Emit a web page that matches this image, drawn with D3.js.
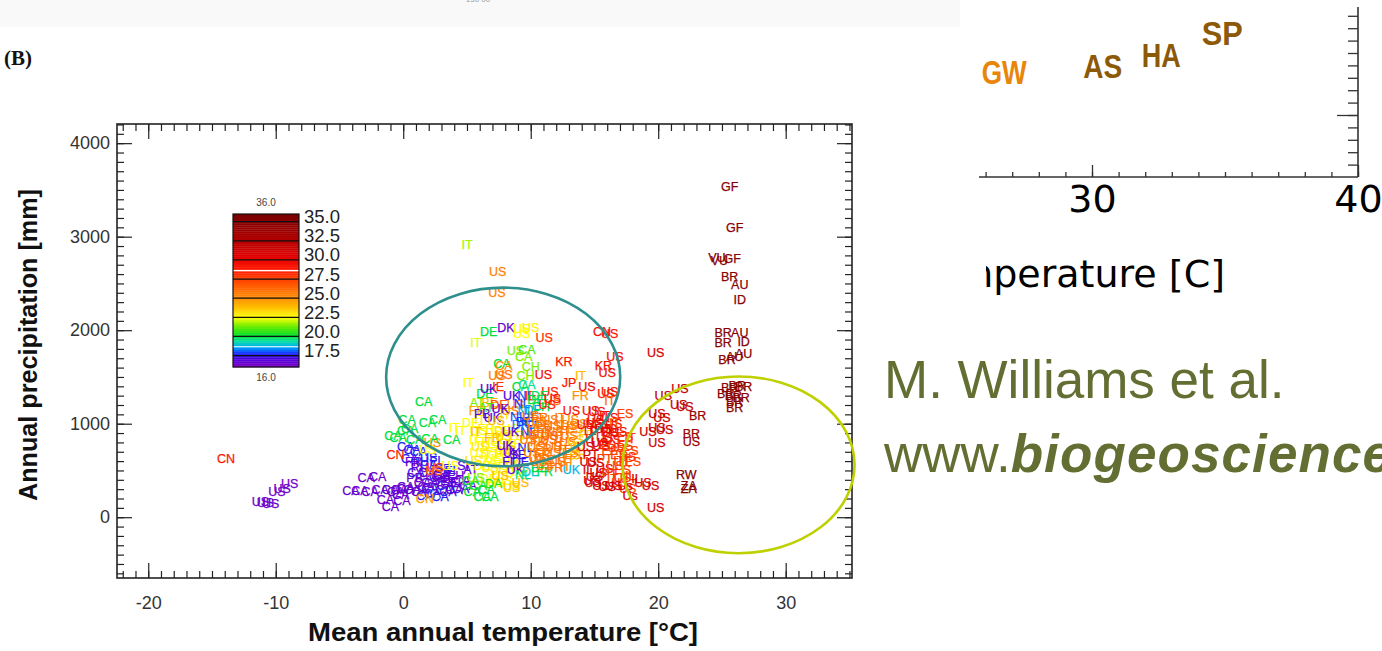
<!DOCTYPE html>
<html>
<head>
<meta charset="utf-8">
<script src="https://cdn.jsdelivr.net/npm/d3@7/dist/d3.min.js"></script>
<style>
body{margin:0;background:#fff}
svg{display:block}
</style>
</head>
<body>
<svg id="chart" width="1382" height="651"></svg>
<script>
// tick values
var xMajor = [-20, -10, 0, 10, 20, 30];
var yMajor = [0, 1000, 2000, 3000, 4000];
var barTicks = [17.5, 20, 22.5, 25, 27.5, 30, 32.5, 35];

// colour table of the bar (value -> colour)
var heatStops   = [16, 17.2, 17.8, 18.6, 19.4, 20.2, 21.5, 22.5, 23.8, 25.2, 27, 28.8, 30.5, 32.5, 34.5, 36];
var heatColours = ["#8000c0","#4a00e0","#1830ff","#00a8ff","#00e0a0","#00e020","#80f000","#ffff00","#ffc000","#ff8800","#ff5000","#ff1800","#e00000","#b40000","#900000","#780000"];

// sites: [code, mean annual temperature, annual precipitation, colour value]
var canadaCold = [
  ["CA",-4.1,280,16.5],["CA",-3.4,280,16.5],["CA",-2.6,270,16.5],["CA",-1.8,290,16.5],["CA",-1.0,290,16.5],
  ["CA",-0.3,300,16.5],["CA",-1.4,190,16.5],["CA",-1.0,110,16.5],["CA",-2.9,420,16.5],["CA",-2.0,430,16.5],
  ["CA",-0.1,180,16.5],["CA",0.2,310,16.8]
];
var coldUS = [
  ["US",-8.9,360,16.4],["US",-9.5,310,16.4],["US",-9.9,270,16.4],
  ["US",-11.2,170,16.4],["US",-10.8,160,16.4],["US",-10.4,150,16.4],
  ["CN",-13.9,630,29]
];
var coldSites = [
  ["CA",0.2,750,17.6],["CA",0.7,720,17.6],["CA",1.2,700,17.6],["CA",0.5,630,17.6],["RU",1.3,590,17.6],
  ["CA",2.0,560,17.6],["FI",2.5,610,17.6],["SE",3.1,520,17.6],["FI",3.7,500,17.6],["CA",2.7,420,17.6],
  ["CA",3.3,340,17.6],["FI",4.1,375,17.6],["CA",4.5,310,17.6],["CA",2.1,310,17.6],["CA",1.7,235,17.6],
  ["CA",2.3,255,17.6],["CA",2.9,225,17.6],["CA",3.5,270,17.6],
  ["CA",1.0,480,17.6],["CA",3.0,455,17],["US",2.0,640,17.6],
  ["FR",0.8,590,16.6],["RU",1.3,525,16.6],["CA",1.9,480,16.6],["US",2.4,450,16.6],["PB",0.9,420,16.6],
  ["CA",1.5,375,16.6],["CA",2.1,375,16.6],["SE",2.9,395,16.6],["CA",0.7,290,16.6],["CA",1.3,270,16.6],
  ["SE",3.5,420,16.6],["EH",4.1,450,16.6],["CA",4.6,395,16.6],["CA",5.1,340,16.6],["CA",0.2,330,16.6],
  ["CA",-0.2,245,16.6],["CA",-0.6,270,16.6],["CA",4.0,300,16.6],["CA",1.8,330,16.6],["CA",3.2,300,16.6],
  ["CN",1.7,200,24.5],["CN",-0.6,665,28.5],["US",1.9,720,22.5],["US",2.3,800,25],["US",2.5,525,28],
  ["US",2.4,500,26],["US",3.7,555,22.5],["SI",4.7,555,17],["AT",5.3,505,16.8],["SE",3.7,375,16.8]
];
var canadaGreen = [
  ["CA",1.6,1240,20],["CA",0.3,1040,20],["CA",1.9,1015,20],["CA",2.7,1040,20],["CA",0.5,950,20],
  ["CA",-0.4,855,20],["CA",0.9,835,20],["CA",2.1,845,20],["CA",3.8,825,20],["CA",-0.8,875,20],["CA",0.2,930,20]
];
var yellowSites = [
  ["DE",5.3,1015,22.5],["US",5.9,930,22.5],["FR",6.5,950,22.8],["US",7.1,910,22.5],["DE",7.8,930,23],["US",8.4,950,22.5],
  ["IT",5.6,825,22.5],["FR",6.2,805,22.5],["US",6.8,770,22.8],["DE",7.5,825,22.5],["US",8.1,770,23],["FR",8.7,790,22.5],
  ["US",5.9,695,22.5],["IT",6.5,665,22.8],["US",7.1,630,22.5],["FR",7.8,675,23],["US",8.4,630,22.5],
  ["DE",6.2,555,22.5],["US",6.8,525,22.8],["US",7.5,505,22.5],["FR",8.1,545,23],["US",8.7,480,22.5],["US",9.2,525,23],
  ["DE",6.7,415,22.5],["US",7.3,375,22.8],["US",7.9,395,22.5],["US",8.5,340,23],
  ["IT",5.7,910,24],["FR",7.0,855,24],["US",8.2,715,24],["US",7.6,440,24],["US",9.2,375,24],["US",8.5,320,23.5],
  ["IT",4.0,960,22.5],["IT",4.5,930,22.5],
  ["US",6.0,760,23],["FR",7.3,700,22.5],["US",8.6,560,23],["DE",7.0,600,22.5],["US",5.5,610,23],
  ["IT",6.0,1040,22.8],["US",7.9,860,23.5],["FR",8.9,870,23]
];
var mixedSites = [
  ["DE",6.4,1325,20],["UK",8.5,1295,17],["NL",9.6,1295,18],["IE",10.0,1305,28],["US",11.5,1340,28.5],
  ["FR",13.9,1295,25],["US",11.7,1250,26],
  ["AT",5.8,1230,21.5],["BE",6.8,1230,24],["FR",5.8,1145,24.5],["PB",6.2,1110,16.8],["DE",7.5,1200,27],
  ["US",8.4,1145,25.5],["IT",8.0,1100,23],["US",8.8,1200,25],
  ["NL",9.3,1210,17.8],["NL",9.6,1145,18.8],["BE",10.0,1060,18],["DE",10.4,985,18.5],["NL",9.8,910,17.8],
  ["DK",9.2,985,18.3],["DE",10.4,1255,20],["DE",10.7,1300,19.8],["UK",7.0,1060,16.8],["US",7.3,1030,24],
  ["UK",7.6,1160,16.8],["NL",9.0,1080,18],["DE",10.2,1150,18.5],["BE",9.5,1020,17.8],["CH",10.8,1180,20],["AT",6.5,1175,21],
  ["UK",8.0,770,16.8],["UK",8.5,695,16.8],["FI",8.2,590,17],["SE",9.0,665,17.2],["UK",8.8,505,16.8],
  ["DE",9.2,590,17.5],["NL",9.6,740,17.8],["UK",8.4,910,16.8],
  ["CA",5.3,395,20],["CA",5.9,340,20.5],["CA",6.5,290,20],["DA",7.1,355,20.5],["CA",5.4,270,20],
  ["CA",6.2,215,20],["CA",6.8,215,20],["US",5.7,420,21.5],
  ["DE",10.0,490,19],["FR",11.1,490,20],["UK",13.2,505,18.8],["DE",10.7,525,20],["NL",9.4,460,19.5]
];
var orangeSites = [
  ["US",10.0,1090,25.5],["FR",10.7,1060,26],["US",11.5,1040,25.5],["IT",12.3,1060,26],["US",13.1,1040,25],
  ["US",10.4,950,25.5],["FR",11.1,930,26],["US",11.9,910,25.5],["IT",12.7,930,26.5],["ES",13.5,950,25],
  ["US",9.8,825,26],["FR",10.6,805,25.5],["US",11.4,825,26],["IT",12.2,770,25.5],["US",12.9,805,26],
  ["US",10.1,695,25.5],["FR",10.9,665,26],["US",11.7,695,25.5],["IT",12.5,630,26],["ES",13.3,665,25.5],
  ["US",11.1,555,25.5],["FR",11.9,525,26],["US",10.6,590,26],["IT",12.7,545,25.5],
  ["US",13.5,825,23.5],["IT",14.0,770,23.5],["ES",13.7,665,23.5],["FR",14.4,880,23.5],["US",13.3,740,23.5],
  ["US",10.3,1010,26],["FR",11.0,990,25.5],["US",11.7,975,26],["IT",12.4,990,25.5],["US",13.0,975,26],["ES",13.8,1000,25],
  ["US",10.0,880,26],["FR",10.8,865,25.5],["US",11.5,870,26.5],["IT",12.3,860,26],["US",13.0,870,25.5],
  ["US",10.4,750,26],["FR",11.0,735,25.5],["US",11.8,760,26],["IT",12.6,720,26.5],["ES",13.1,690,25.5],
  ["US",10.5,640,26],["FR",11.3,615,25.5],["US",12.1,595,26],["IT",13.0,600,25]
];
var redSites = [
  ["US",14.7,1145,29.5],["US",15.2,1125,29.5],["IT",15.8,1090,29.5],["US",16.2,1060,29.5],["US",15.1,1040,29.5],
  ["ES",15.6,985,29.5],["US",16.1,950,29.5],["US",16.5,1005,29.5],["PT",15.3,910,29.5],["US",15.8,855,29.5],
  ["US",16.4,825,29.5],["IT",14.7,845,29.5],["US",14.3,985,29.5],["US",16.9,910,29.5],
  ["US",15.0,1010,30],["US",15.7,950,30.5],["US",16.3,900,30],["IT",14.6,930,30],["US",15.4,800,30.5],
  ["US",14.3,750,31],["PT",14.7,665,31],["US",15.1,580,31],["IL",14.5,505,31],["US",15.3,480,31],
  ["US",14.8,395,31],["US",15.5,770,31],["US",14.5,590,31],["US",15.0,430,31],["US",15.8,520,30],
  ["ES",16.2,715,27.5],["ES",16.9,665,27.5],["IT",17.4,610,27.5],["US",16.6,555,27.5],["ES",17.2,505,27.5],
  ["IL",17.8,450,27.5],["IT",16.4,415,27.5],["US",17.0,375,27.5],["US",17.6,310,27.5],["PT",15.8,630,27.5],
  ["ES",18.0,590,27.5],["ES",17.4,770,27.5],["IT",17.8,855,27.5],
  ["ES",16.0,780,28.5],["US",16.7,740,28],["PT",16.2,470,28],["US",17.2,420,28],["IT",16.9,600,28],["US",17.6,650,28],
  ["US",11.7,1270,29],["US",11.3,1200,28.5],["US",13.2,1145,29],["IT",16.6,1015,27],["ES",17.4,1110,27.5],
  ["US",16.2,1340,29],["ES",17.8,715,27.5],["ES",17.4,860,28]
];
var subtropics = [
  ["US",19.8,1760,31],["US",21.7,1370,32],["US",20.4,1300,32],["US",21.6,1200,32],["US",22.1,1180,32],
  ["US",19.9,1110,31.5],["US",20.3,1060,31.5],["US",20.5,940,31.5],["US",19.9,960,31.5],["US",19.2,910,31.5],
  ["US",19.9,800,31.5],["US",19.8,105,31],["US",18.8,365,31],["US",19.4,340,31],["Us",17.4,340,31],
  ["Us",17.8,235,31],["IL",18.3,415,31],["US",14.9,365,31],["US",15.5,340,31],["US",16.0,330,31],["US",16.5,340,31]
];
var tropics = [
  ["GF",25.6,3540,35],["GF",26.0,3100,35],["VU",24.6,2780,35],["VU",24.8,2740,35],["GF",25.8,2770,35],
  ["BR",25.6,2570,35],["AU",26.4,2490,35],["ID",26.4,2330,35],
  ["BR",25.1,1970,35],["AU",26.4,1970,35],["BR",25.1,1870,35],["ID",26.7,1880,35],
  ["AU",26.7,1750,35],["BR",25.4,1690,35],["AU",26.0,1720,35],
  ["BR",25.6,1390,35],["BR",26.2,1410,35],["BR",26.7,1400,35],["BR",25.3,1320,35],["BR",25.9,1300,35],
  ["BR",26.5,1280,35],["BR",26.0,1240,35],["BR",26.0,1170,35],
  ["RW",22.2,460,35],["ZA",22.4,340,35],["ZA",22.4,310,35],
  ["BR",23.1,1090,34],["BR",22.6,890,34],["US",22.6,810,34]
];
var upperSites = [
  ["IT",5.0,2920,21.8],["US",7.4,2630,25.5],["US",7.35,2400,25.5],
  ["DE",6.7,1990,20],["DK",8.05,2030,16.5],["US",9.3,2020,22.5],["US",10.0,2030,22.8],["US",9.3,1960,22.5],["US",11.05,1920,28],
  ["IT",5.7,1870,22.3],["US",8.8,1780,21.5],["CA",9.7,1790,21],["CA",9.45,1720,21.5],["CA",7.75,1645,20],["CA",7.9,1625,25],
  ["CH",10.0,1610,21.5],["KR",12.6,1660,29],["US",7.35,1510,25.5],["US",7.9,1520,26],["CH",9.6,1510,21.5],["US",11.0,1520,29.5],
  ["IT",5.1,1440,22.5],["UK",6.7,1375,16.8],["IE",7.45,1395,28],["CA",9.2,1395,20],["CA",9.7,1420,19.5],
  ["JP",13.0,1440,29],["IT",13.9,1515,24],["US",14.4,1395,30],["US",15.9,1325,29],["KR",15.7,1625,29.5],
  ["US",16.0,1545,29.5],["US",16.6,1715,29.5],["CN",15.6,1980,29.5],["US",16.2,1965,29],["IT",16.2,1250,26]
];

// the two rings (centre and half-widths in data units)
var ringTemp = [7.84, 26.3];
var ringPrecip = [1500, 560];
var ringHalfTemp = [9.18, 9.1];
var ringHalfPrecip = [955, 945];

// second panel (cut off on the left)
var rightSites = ["GW", "AS", "HA", "SP"];
var rightTemp = [26.7, 30.4, 32.6, 34.9];
var rightValue = [3347, 3395, 3484, 3661];
var rightHeat = [25, 34, 34, 34];
var rightXTicks = [30, 40];

var svg = d3.select("#chart");
var font = "'Liberation Sans', Arial, sans-serif";

svg.append("rect").attr("x",0).attr("y",0).attr("width",960).attr("height",27).attr("fill","#f9f9f9");
svg.append("text").attr("x",478).attr("y",2).attr("text-anchor","middle")
  .attr("font-family",font).attr("font-size",8).attr("fill","#999").text("150 00");

svg.append("text").attr("x",4).attr("y",65)
  .attr("font-family","'Liberation Serif', 'Times New Roman', serif").attr("font-weight","bold")
  .attr("font-size",21).attr("fill","#111").text("(B)");

var x = d3.scaleLinear().domain([-22.45, 35.2]).range([117, 852]);
var y = d3.scaleLinear().domain([-650, 4205]).range([578, 124]);
var heatColour = d3.scaleLinear().domain(heatStops).range(heatColours).clamp(true);

function ticks(g){
  g.select(".domain").remove();
  g.selectAll(".tick line").attr("stroke","#222").attr("stroke-width",1.2);
  g.selectAll("text").attr("font-family",font).attr("font-size",18).attr("fill","#333");
}

// bottom / top
svg.append("g").attr("transform","translate(0,578)")
  .call(d3.axisBottom(x).tickValues(xMajor).tickSize(-15).tickPadding(18).tickFormat(function(d){return String(d);}))
  .call(ticks);
svg.append("g").attr("transform","translate(0,578)")
  .call(d3.axisBottom(x).tickValues(d3.range(-22,36)).tickSize(-7).tickFormat("")).call(ticks);
svg.append("g").attr("transform","translate(0,124)")
  .call(d3.axisTop(x).tickValues(xMajor).tickSize(-15).tickFormat("")).call(ticks);
svg.append("g").attr("transform","translate(0,124)")
  .call(d3.axisTop(x).tickValues(d3.range(-22,36)).tickSize(-7).tickFormat("")).call(ticks);
// left / right
svg.append("g").attr("transform","translate(117,0)")
  .call(d3.axisLeft(y).tickValues(yMajor).tickSize(-15).tickPadding(7).tickFormat(d3.format("d")))
  .call(ticks);
svg.append("g").attr("transform","translate(117,0)")
  .call(d3.axisLeft(y).tickValues(d3.range(-600,4201,100)).tickSize(-7).tickFormat("")).call(ticks);
svg.append("g").attr("transform","translate(852,0)")
  .call(d3.axisRight(y).tickValues(yMajor).tickSize(-15).tickFormat("")).call(ticks);
svg.append("g").attr("transform","translate(852,0)")
  .call(d3.axisRight(y).tickValues(d3.range(-600,4201,100)).tickSize(-7).tickFormat("")).call(ticks);

svg.append("rect").attr("x",117).attr("y",124).attr("width",735).attr("height",454)
  .attr("fill","none").attr("stroke","#222").attr("stroke-width",1.6);

svg.append("text").attr("x",503).attr("y",641).attr("text-anchor","middle")
  .attr("font-family",font).attr("font-weight","bold").attr("font-size",26)
  .attr("textLength",390).attr("lengthAdjust","spacingAndGlyphs").attr("fill","#111")
  .text("Mean annual temperature [°C]");
svg.append("text").attr("transform","translate(37,345) rotate(-90)").attr("text-anchor","middle")
  .attr("font-family",font).attr("font-weight","bold").attr("font-size",25)
  .attr("textLength",312).attr("lengthAdjust","spacingAndGlyphs").attr("fill","#111")
  .text("Annual precipitation [mm]");

// colour bar
var barY = d3.scaleLinear().domain([16, 36]).range([367, 214]);
var bar = svg.append("g");
bar.selectAll("rect.band").data(d3.range(16, 36, 0.25)).enter().append("rect")
  .attr("x",233).attr("width",66)
  .attr("y",function(d){return barY(d+0.25);})
  .attr("height",function(d){return barY(d)-barY(d+0.25)+0.3;})
  .attr("fill",function(d){return heatColour(d+0.125);});
bar.selectAll("line.sep").data(barTicks).enter().append("line")
  .attr("x1",233).attr("x2",299).attr("y1",function(d){return barY(d);}).attr("y2",function(d){return barY(d);})
  .attr("stroke","#111").attr("stroke-width",1.3);
bar.selectAll("line.white").data([28.6, 18.65]).enter().append("line")
  .attr("x1",233).attr("x2",299).attr("y1",function(d){return barY(d);}).attr("y2",function(d){return barY(d);})
  .attr("stroke","#fff").attr("stroke-width",1.2);
bar.append("rect").attr("x",233).attr("y",barY(36)).attr("width",66).attr("height",barY(16)-barY(36))
  .attr("fill","none").attr("stroke","#111").attr("stroke-width",1.2);
bar.selectAll("text.tk").data(barTicks).enter().append("text")
  .attr("x",304).attr("y",function(d){return barY(d)+1.5;})
  .attr("font-family",font).attr("font-size",18.5).attr("fill","#222")
  .text(function(d){return d.toFixed(1);});
bar.append("text").attr("x",266).attr("y",barY(36)-8).attr("text-anchor","middle")
  .attr("font-family",font).attr("font-size",10).attr("fill","#444").text("36.0");
bar.append("text").attr("x",266).attr("y",barY(16)+14).attr("text-anchor","middle")
  .attr("font-family",font).attr("font-size",10).attr("fill","#444").text("16.0");

// site labels
var sites = [].concat(canadaCold, coldUS, coldSites, canadaGreen, yellowSites, mixedSites,
                      orangeSites, redSites, subtropics, tropics, upperSites);
svg.append("g").selectAll("text").data(sites).enter().append("text")
  .attr("x",function(d){return x(d[1]);})
  .attr("y",function(d){return y(d[2]);})
  .attr("dy","0.35em").attr("text-anchor","middle")
  .attr("font-family",font).attr("font-size",12.5)
  .attr("fill",function(d){return heatColour(d[3]);})
  .attr("stroke",function(d){return heatColour(d[3]);}).attr("stroke-width",0.25)
  .text(function(d){return d[0];});

// rings
var ringColours = ["#2e8f8c", "#bfd000"];
svg.append("g").selectAll("ellipse").data(ringTemp).enter().append("ellipse")
  .attr("cx",function(d){return x(d);})
  .attr("cy",function(d,i){return y(ringPrecip[i]);})
  .attr("rx",function(d,i){return x(d+ringHalfTemp[i])-x(d);})
  .attr("ry",function(d,i){return y(ringPrecip[i])-y(ringPrecip[i]+ringHalfPrecip[i]);})
  .attr("fill","none").attr("stroke-width",2.6)
  .attr("stroke",function(d,i){return ringColours[i];});

// second panel, cut at the left
var defs = svg.append("defs");
defs.append("clipPath").attr("id","cut").append("rect")
  .attr("x",979).attr("y",0).attr("width",403).attr("height",651);
defs.append("clipPath").attr("id","cutTitle").append("rect")
  .attr("x",986).attr("y",0).attr("width",396).attr("height",651);
var x2 = d3.scaleLinear().domain([30, 40]).range([1092, 1358]);
var y2 = d3.scaleLinear().domain([2500, 3000]).range([177, 115]);
var p2 = svg.append("g").attr("clip-path","url(#cut)");
var font2 = "'DejaVu Sans', Verdana, sans-serif";

function ticks2(g){
  g.select(".domain").remove();
  g.selectAll(".tick line").attr("stroke","#333").attr("stroke-width",1.3);
  g.selectAll("text").attr("font-family",font2).attr("font-size",38).attr("fill","#000");
}
p2.append("g").attr("transform","translate(0,177)")
  .call(d3.axisBottom(x2).tickValues(d3.range(24,41)).tickSize(-5).tickFormat("")).call(ticks2);
p2.append("g").attr("transform","translate(0,177)")
  .call(d3.axisBottom(x2).tickValues(rightXTicks).tickSize(-12).tickPadding(8).tickFormat(function(d){return String(d);}))
  .call(ticks2);
p2.append("g").attr("transform","translate(1358,0)")
  .call(d3.axisLeft(y2).tickValues(d3.range(2600,3900,100)).tickSize(10).tickFormat("")).call(ticks2);
p2.append("g").attr("transform","translate(1358,0)")
  .call(d3.axisLeft(y2).tickValues([3000]).tickSize(21).tickFormat("")).call(ticks2);
p2.append("line").attr("x1",x2(24)).attr("x2",x2(40)).attr("y1",y2(2500)).attr("y2",y2(2500))
  .attr("stroke","#333").attr("stroke-width",1.6);
p2.append("line").attr("x1",x2(40)).attr("x2",x2(40)).attr("y1",y2(2500)).attr("y2",y2(3870))
  .attr("stroke","#333").attr("stroke-width",1.6);
svg.append("g").attr("clip-path","url(#cutTitle)")
  .append("text").attr("x",1225).attr("y",287).attr("text-anchor","end")
  .attr("font-family",font2).attr("font-size",38).attr("fill","#000")
  .text("Mean annual temperature [C]");

var rightColour = d3.scaleThreshold().domain([30]).range(["#e8860a", "#8c5a07"]);
p2.selectAll("text.site").data(rightSites).enter().append("text")
  .attr("x",function(d,i){return x2(rightTemp[i]);})
  .attr("y",function(d,i){return y2(rightValue[i]);})
  .attr("dy","0.36em").attr("text-anchor","middle")
  .attr("font-family",font).attr("font-weight","bold").attr("font-size",34)
  .attr("textLength",function(d){return d === "SP" ? 41 : (d === "GW" ? 45 : 39);})
  .attr("lengthAdjust","spacingAndGlyphs")
  .attr("fill",function(d,i){return rightColour(rightHeat[i]);})
  .text(function(d){return d;});

// citation
svg.append("text").attr("x",884).attr("y",398)
  .attr("font-family",font).attr("font-size",53).attr("fill","#636f32")
  .text("M. Williams et al.");
var cite = svg.append("text").attr("x",884).attr("y",472)
  .attr("font-family",font).attr("font-size",53).attr("fill","#636f32");
cite.append("tspan").text("www.");
cite.append("tspan").attr("font-weight","bold").attr("font-style","italic")
  .attr("letter-spacing",1.1).text("biogeosciences.net");
</script>
</body>
</html>
